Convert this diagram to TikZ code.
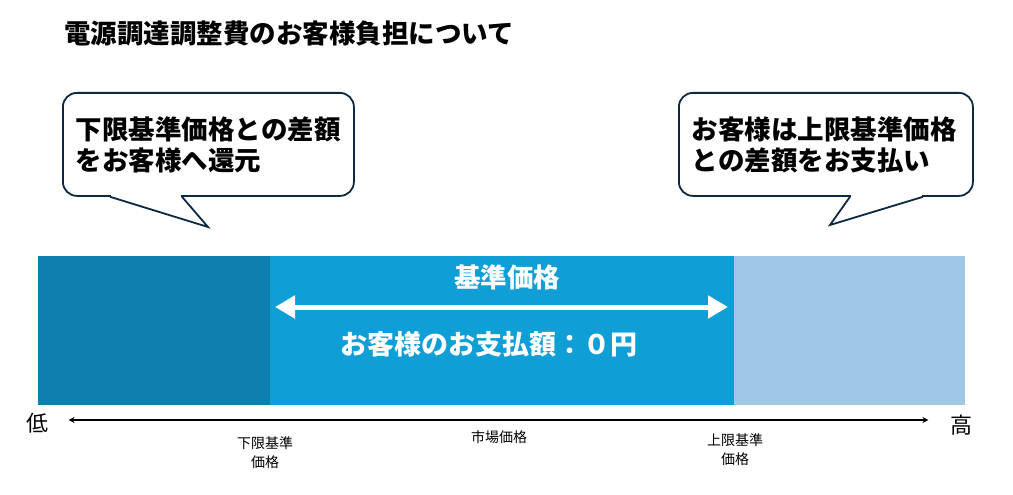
\documentclass[tikz,border=0pt]{standalone}
\usepackage{fontspec}
\setmainfont{Noto Sans CJK JP}
\usepackage{tikz}
\usetikzlibrary{arrows.meta}
\usetikzlibrary{positioning,calc}
\definecolor{banddark}{HTML}{0E80AD}
\definecolor{bandmid}{HTML}{0F9ED5}
\definecolor{bandlight}{HTML}{A0C7E6}
\definecolor{calloutnavy}{HTML}{0E2841}

\begin{document}
\begin{tikzpicture}[x=1pt,y=-1pt,
    bigtext/.style={font=\fontsize{26.5}{31}\selectfont\bfseries},
    callout/.style={draw=calloutnavy,line width=1.8pt,fill=white,
      rounded corners=14pt,anchor=north west,align=left,inner xsep=13pt},
    tailline/.style={draw=calloutnavy,line width=1.8pt,line join=miter},
    band/.style={inner sep=0pt,outer sep=0pt,anchor=north west,
      minimum height=149pt},
    smalltext/.style={font=\fontsize{14}{19}\selectfont,align=center}]
    \useasboundingbox (0,0) rectangle (1013,495);
    % title
    \node[bigtext,anchor=west,inner sep=0pt] (title) at (64,33)
      {電源調達調整費のお客様負担について};
    % callout: lower limit
    \node[callout,bigtext,minimum width=291pt,minimum height=103pt,
      text width=265pt] (lownote) at (62,92)
      {下限基準価格との差額\\をお客様へ還元};
    \coordinate (lowtip) at (208,227);
    \fill[white] ($(lownote.south west)+(49,-2.5)$) rectangle
      ($(lownote.south west)+(119,2)$);
    \draw[tailline] ($(lownote.south west)+(48,0)$) -- (lowtip)
      -- ($(lownote.south west)+(120,0)$);
    % callout: upper limit
    \node[callout,bigtext,minimum width=294pt,minimum height=103pt,
      text width=268pt] (highnote) at (678,92)
      {お客様は上限基準価格\\との差額をお支払い};
    \coordinate (hightip) at (830,225);
    \fill[white] ($(highnote.south west)+(173,-2.5)$) rectangle
      ($(highnote.south west)+(244,2)$);
    \draw[tailline] ($(highnote.south west)+(172,0)$) -- (hightip)
      -- ($(highnote.south west)+(245,0)$);
    % price bands
    \node[band,fill=banddark,minimum width=232pt] (lowband) at (38,256) {};
    \node[band,fill=bandmid,minimum width=464pt] (baseband) at (270,256) {};
    \node[band,fill=bandlight,minimum width=231pt] (highband) at (734,256) {};
    \node[bigtext,text=white] (basetitle) at (507,277) {基準価格};
    \coordinate (baseleft) at (275,307);
    \coordinate (baseright) at (728,307);
    \draw[white,line width=5pt,{Triangle[length=20pt,width=22pt]}-{Triangle[length=20pt,width=22pt]}]
      (baseleft) -- (baseright);
    \node[bigtext,font=\fontsize{27}{31}\selectfont\bfseries,text=white] (payzero)
      at (489,344) {お客様のお支払額：０円};
    % price axis
    \node[font=\fontsize{22}{22}\selectfont] (lowlabel) at (38,423) {低};
    \node[font=\fontsize{22}{22}\selectfont] (highlabel) at (961,425) {高};
    \draw[{Stealth[length=6pt,width=6pt]}-{Stealth[length=6pt,width=6pt]},line width=1.1pt]
      ($(lowlabel.east)+(16,-3)$) -- ($(highlabel.west)+(-18,-5)$);
    \node[smalltext] (lowprice) at (265,453) {下限基準\\価格};
    \node[smalltext] (market) at (499,437) {市場価格};
    \node[smalltext] (highprice) at (735,450) {上限基準\\価格};
  \end{tikzpicture}
\end{document}
